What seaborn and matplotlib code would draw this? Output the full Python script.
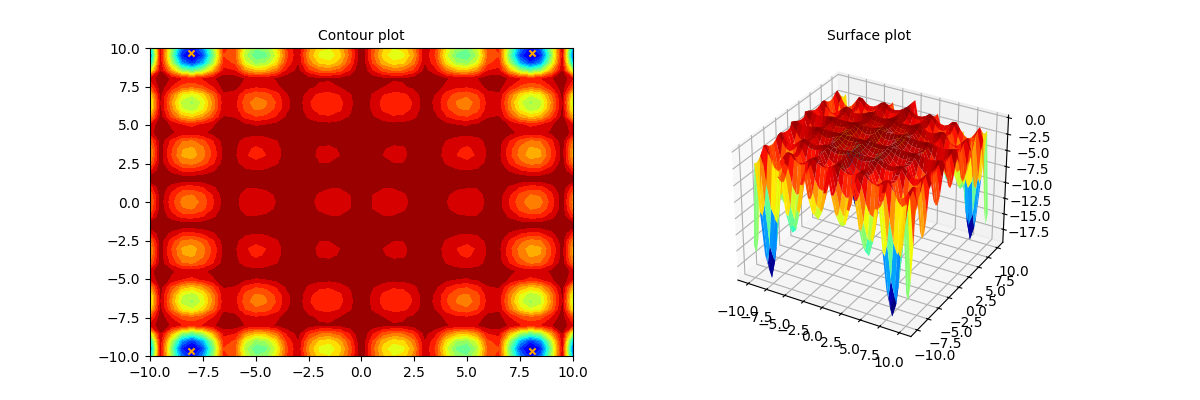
import numpy as np
import matplotlib
matplotlib.use("Agg")
import matplotlib.pyplot as plt
import seaborn as sns

# Depths for the quadrant x, y = 0 ... 10 (step 0.5), mirrored into the other three quadrants.
# Provenance: typed-in approximations worked out by hand from the recognised Holder table
# shape, with some values adjusted against the picture; not purely.
axis_half = [0, .5, 1, 1.5, 2, 2.5, 3, 3.5, 4, 4.5, 5, 5.5, 6, 6.5, 7, 7.5, 8, 8.5, 9, 9.5, 10]
depth_quadrant = [
 [0,1.1,1.66,1.68,1.3,.73,.15,.39,.99,1.5,1.73,1.66,.69,.63,2.2,3.8,4.66,4.4,2.65,.57,4.8],
 [0,1,1.45,1.47,1.14,.64,.13,.34,.87,1.32,1.52,1.46,.61,.55,1.93,3.34,4.1,3.86,2.33,.5,4.2],
 [0,.6,.9,.9,.7,.39,.08,.21,.53,.81,.93,.9,.37,.34,1.19,2.05,2.52,2.38,1.43,.31,2.6],
 [0,.08,.12,.12,.09,.05,.01,.03,.07,.11,.12,.12,.05,.04,.16,.27,.33,.31,.19,.04,.34],
 [0,.21,.37,.46,.45,.32,.08,.24,.59,.85,.96,.82,.37,.33,1.15,1.91,2.35,2.19,1.3,.28,2.35],
 [0,.4,.7,1.0,1.0,.61,.16,.46,1.13,1.64,1.84,1.57,.7,.63,2.21,3.68,4.51,4.22,2.5,.54,4.53],
 [0,.5,1.02,1.2,1.18,.75,.2,.57,1.4,2.03,2.28,1.94,.87,.78,2.73,4.55,5.58,5.22,3.1,.66,5.6],
 [0,.47,.95,1.13,1.1,.71,.19,.54,1.32,1.92,2.15,1.83,.82,.74,2.58,4.3,5.28,4.93,2.93,.63,5.3],
 [0,.38,.66,.83,.8,.57,.15,.44,1.06,1.54,1.73,1.47,.66,.59,2.07,3.45,4.23,3.95,2.35,.5,4.25],
 [0,.14,.24,.3,.29,.21,.05,.16,.38,.55,.62,.53,.24,.21,.75,1.24,1.52,1.42,.85,.18,1.53],
 [0,.32,.56,.69,.66,.46,.11,.31,.72,1.01,1.09,.88,.4,.34,1.15,1.87,2.23,2.01,1.19,.25,2.05],
 [0,.87,1.55,1.91,1.8,1.26,.31,.84,1.97,2.77,3.01,2.42,1.09,.94,3.17,5.14,6.14,5.53,3.26,.68,5.64],
 [0,1.23,2.19,2.69,2.54,1.78,.44,1.19,2.78,3.91,4.24,3.41,1.53,1.32,4.46,7.24,8.65,7.79,4.59,.96,7.94],
 [0,1.32,2.35,2.89,2.73,1.91,.47,1.28,2.99,4.2,4.56,3.67,1.65,1.42,4.8,7.79,9.3,8.38,4.94,1.03,8.54],
 [0,1.11,1.97,2.43,2.29,1.6,.39,1.08,2.51,3.53,3.83,3.08,1.39,1.19,4.03,6.54,7.81,7.04,4.15,.87,7.17],
 [0,.55,.99,1.21,1.15,.8,.2,.54,1.26,1.76,1.92,1.54,.69,.6,2.02,3.27,3.91,3.52,2.07,.43,3.59],
 [0,.44,.79,.95,.9,.63,.16,.4,.94,1.27,1.34,1.07,.46,.38,1.26,2,2.37,2.08,1.2,.24,1.96],
 [0,1.91,3.45,4.15,3.93,2.74,.69,1.76,4.09,5.55,5.85,4.65,1.99,1.65,5.5,8.71,10.31,9.05,5.23,1.05,8.52],
 [0,3.07,5.53,6.65,6.3,4.4,1.1,2.82,6.56,8.89,9.39,7.46,3.19,2.64,8.82,13.97,16.53,14.51,8.38,1.69,13.67],
 [0,3.6,6.5,7.81,7.39,5.17,1.29,3.32,7.7,10.44,11.02,8.76,3.74,3.1,10.35,16.4,19.2,17.04,9.84,1.98,16.05],
 [0,3.26,5.88,7.07,6.69,4.67,1.17,3,6.96,9.45,9.97,7.92,3.39,2.81,9.37,14.84,17.56,15.42,8.91,1.79,14.52],
]
minima_x = [8.05, -8.05, 8.05, -8.05]
minima_y = [9.66, 9.66, -9.66, -9.66]
xy_ticks = [-10, -7.5, -5, -2.5, 0, 2.5, 5, 7.5, 10]
z_ticks = [-17.5, -15, -12.5, -10, -7.5, -5, -2.5, 0]

half = np.array(axis_half)
axis_full = np.concatenate([-half[:0:-1], half])
q = -np.array(depth_quadrant)
right = np.hstack([q[:, :0:-1], q])
Z = np.vstack([right[:0:-1], right])
X, Y = np.meshgrid(axis_full, axis_full)

fig = plt.figure(figsize=(12, 4), dpi=100)

ax1 = fig.add_subplot(1, 2, 1)
ax1.contourf(X, Y, Z, levels=20, cmap="jet")
sns.scatterplot(x=minima_x, y=minima_y, marker="x", color="orange", s=20, linewidth=1.5, ax=ax1)
ax1.set_xlim(-10, 10)
ax1.set_ylim(-10, 10)
ax1.set_title("Contour plot", fontsize=10)

ax2 = fig.add_subplot(1, 2, 2, projection="3d")
ax2.plot_surface(X, Y, Z, cmap="jet", rstride=1, cstride=1, linewidth=0)
ax2.set_xticks(xy_ticks)
ax2.set_yticks(xy_ticks)
ax2.set_zticks(z_ticks)
ax2.set_title("Surface plot", fontsize=10)

fig.savefig("out.png", dpi=100)
